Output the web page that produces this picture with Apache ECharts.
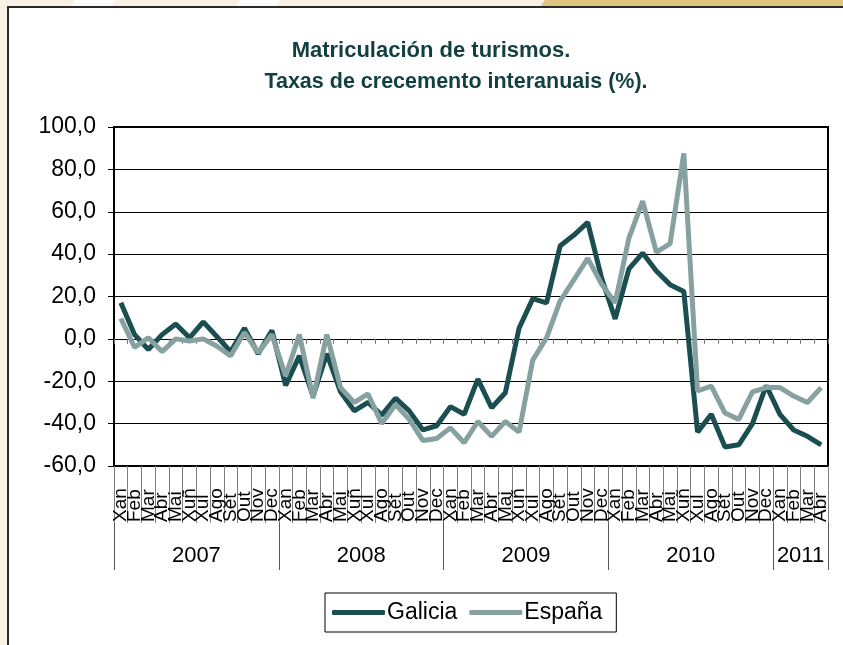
<!DOCTYPE html>
<html>
<head>
<meta charset="utf-8">
<script src="https://cdn.jsdelivr.net/npm/echarts@6/dist/echarts.min.js"></script>
<style>
  html, body { margin: 0; padding: 0; background: #fff; }
  #chart { width: 843px; height: 645px; }
</style>
</head>
<body>
<div id="chart"></div>
<script>
// meses (xan 2007 - abr 2011)
var monthNames = ["Xan", "Feb", "Mar", "Abr", "Mai", "Xuñ", "Xul", "Ago", "Set", "Out", "Nov", "Dec"];
var years = ["2007", "2008", "2009", "2010", "2011"];
var yearMonths = [12, 12, 12, 12, 4];

var galicia = [
  17, 2, -5, 2, 7, 0.5, 8, 1, -6, 5, -7, 4,
  -22, -8, -27, -7, -25, -34, -30, -36, -28, -34, -43, -41,
  -32, -35.6, -19, -32.5, -25.4, 5, 19, 17, 44, 49, 55, 29,
  9.4, 33, 40.5, 32, 25.6, 22.4, -44, -35.6, -51, -50, -40, -22, -35.6, -43, -46, -50
];
var espana = [
  9.6, -4, 0.5, -6, 0, -1, 0, -3.5, -8, 3, -6.5, 2,
  -17.5, 2, -28, 2, -23, -30, -26, -40, -31, -38, -48, -47,
  -42, -49, -39, -46, -39, -44, -10, 0.5, 18, 28, 38, 26,
  17, 47.6, 65, 41, 45, 87.6, -24.6, -22.3, -35, -38, -25, -23, -23, -27, -30, -23
];

// etiquetas do eixo x
var categories = [];
var yearBounds = [0];
var yearCenters = [];
years.forEach(function (y, i) {
  var start = yearBounds[yearBounds.length - 1];
  for (var m = 0; m < yearMonths[i]; m++) categories.push(monthNames[m]);
  yearBounds.push(start + yearMonths[i]);
  yearCenters.push(start + yearMonths[i] / 2);
});

var FONT = "'Liberation Sans', Arial, sans-serif";
var myChart = echarts.init(document.getElementById("chart"));

var option = {
  backgroundColor: "#fff",
  animation: false,
  title: [
    {
      text: "Matriculación de turismos.",
      left: 426, top: 35, textAlign: "center",
      textStyle: { fontFamily: FONT, fontSize: 22, fontWeight: "bold", color: "#123f3f" }
    },
    {
      text: "Taxas de crecemento interanuais (%).",
      left: 451, top: 66, textAlign: "center",
      textStyle: { fontFamily: FONT, fontSize: 21.5, fontWeight: "bold", color: "#123f3f" }
    }
  ],
  graphic: [
    // marco da diapositiva
    { type: "rect", shape: { x: 0, y: 0, width: 843, height: 7 }, style: { fill: "#f9f1e3" }, silent: true },
    { type: "polygon", shape: { points: [[75, 0], [115, 0], [110, 7], [70, 7]] }, style: { fill: "#fff" }, silent: true },
    { type: "polygon", shape: { points: [[240, 0], [280, 0], [275, 7], [235, 7]] }, style: { fill: "#fff" }, silent: true },
    { type: "polygon", shape: { points: [[545, 0], [843, 0], [843, 7], [540, 7]] }, style: { fill: "#dfc67f" }, silent: true },
    { type: "rect", shape: { x: 0, y: 0, width: 7, height: 645 }, style: { fill: "#f9f1e3" }, silent: true },
    { type: "line", shape: { x1: 7, y1: 7, x2: 843, y2: 7 }, style: { stroke: "#2a2a2a", lineWidth: 2 }, silent: true },
    { type: "line", shape: { x1: 8, y1: 7, x2: 8, y2: 645 }, style: { stroke: "#2a2a2a", lineWidth: 2 }, silent: true }
  ],
  legend: {
    left: 325,
    top: 593,
    padding: [8, 14, 8, 7],
    itemGap: 12,
    itemWidth: 53,
    itemHeight: 5,
    icon: "roundRect",
    borderColor: "#000",
    borderWidth: 1,
    textStyle: { fontFamily: FONT, fontSize: 23, color: "#000", padding: [0, 0, 0, -3] },
    data: ["Galicia", "España"]
  },
  grid: {
    left: 114,
    right: 15,
    top: 127,
    bottom: 179,
    show: true,
    borderColor: "#000",
    borderWidth: 2,
    containLabel: false
  },
  xAxis: [
    {
      type: "category",
      data: categories,
      position: "bottom",
      axisLine: { onZero: false, lineStyle: { color: "#000", width: 2 } },
      axisTick: { show: true, interval: 0, length: 57, lineStyle: { color: "#808080" } },
      axisLabel: {
        interval: 0, rotate: 90, align: "left", margin: 56,
        fontFamily: FONT, fontSize: 19, color: "#000"
      }
    },
    {
      // marcas sobre o 0
      type: "category",
      data: categories,
      position: "bottom",
      axisLine: { show: true, onZero: true, lineStyle: { color: "#000", width: 1 } },
      axisTick: { show: true, interval: 0, length: 5, lineStyle: { color: "#777" } },
      axisLabel: { show: false }
    },
    {
      // anos
      type: "value",
      min: 0,
      max: 52,
      position: "bottom",
      offset: 57,
      axisLine: { show: false },
      splitLine: { show: false },
      axisTick: { show: true, customValues: yearBounds, length: 47, lineStyle: { color: "#555" } },
      axisLabel: {
        customValues: yearCenters,
        margin: 22,
        fontFamily: FONT, fontSize: 22, color: "#000",
        formatter: function (v) {
          var i = yearCenters.indexOf(v);
          return i >= 0 ? years[i] : "";
        }
      }
    }
  ],
  yAxis: {
    type: "value",
    min: -60,
    max: 100,
    interval: 20,
    axisLine: { show: true, lineStyle: { color: "#000", width: 2 } },
    axisTick: { show: true, length: 6, lineStyle: { color: "#000" } },
    axisLabel: {
      margin: 18,
      fontFamily: FONT, fontSize: 23, color: "#000",
      formatter: function (v) { return v.toFixed(1).replace(".", ","); }
    },
    splitLine: { lineStyle: { color: "#000", width: 1 } }
  },
  series: [
    {
      name: "Galicia",
      type: "line",
      xAxisIndex: 0,
      data: galicia,
      showSymbol: false,
      color: "#1b4e51",
      lineStyle: { width: 5, color: "#1b4e51" }
    },
    {
      name: "España",
      type: "line",
      xAxisIndex: 0,
      data: espana,
      showSymbol: false,
      color: "#87a1a1",
      lineStyle: { width: 5, color: "#87a1a1" }
    }
  ]
};

myChart.setOption(option);
</script>
</body>
</html>
